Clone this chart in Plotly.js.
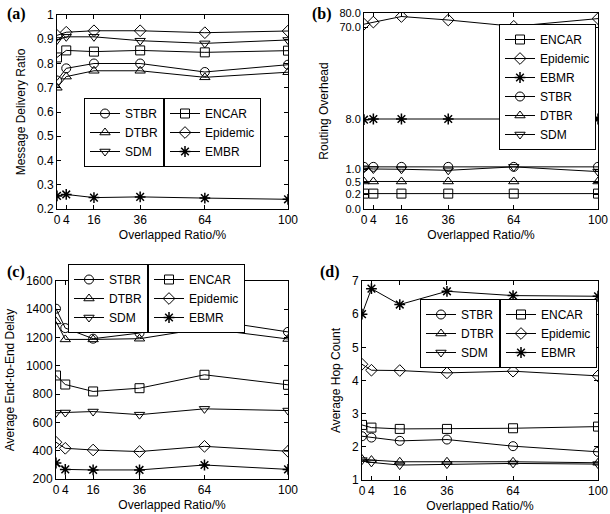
<!DOCTYPE html>
<html>
<head>
<meta charset="utf-8">
<script src="https://cdn.plot.ly/plotly-3.0.1.min.js"></script>
<style>
  html, body { margin: 0; padding: 0; background: #fff; }
  #chart { width: 610px; height: 514px; }
</style>
</head>
<body>
<div id="chart"></div>
<script>
// overlapped ratio (%), shared by all four panels
const overlap = [0, 4, 16, 36, 64, 100];
const xTicks = [0, 4, 16, 36, 64, 100];

// (a) message delivery ratio
const deliverySTBR = [0.73, 0.78, 0.80, 0.80, 0.765, 0.795];
const deliveryDTBR = [0.70, 0.746, 0.77, 0.77, 0.743, 0.764];
const deliverySDM = [0.897, 0.91, 0.91, 0.894, 0.883, 0.897];
const deliveryENCAR = [0.825, 0.854, 0.849, 0.854, 0.846, 0.853];
const deliveryEpidemic = [0.916, 0.929, 0.935, 0.935, 0.927, 0.934];
const deliveryEMBR = [0.254, 0.26, 0.247, 0.25, 0.245, 0.24];

// (b) routing overhead (broken axis)
const overheadENCAR = [0.21, 0.21, 0.21, 0.21, 0.21, 0.21];
const overheadEpidemic = [72, 73.5, 77.5, 75, 70.5, 76];
const overheadEBMR = [7.9, 8, 8, 8, 8, 8];
const overheadSTBR = [1.3, 1.3, 1.3, 1.3, 1.3, 1.3];
const overheadDTBR = [0.52, 0.52, 0.52, 0.52, 0.52, 0.52];
const overheadSDM = [1.1, 1.0, 0.99, 0.95, 1.3, 0.9];
const overheadTicks = [0, 0.2, 0.5, 1, 8, 70, 80];
const overheadTickText = ['0.0', '0.2', '0.5', '1.0', '8.0', '70.0', '80.0'];

// (c) average end-to-end delay
const delaySTBR = [1404, 1267, 1192, 1232, 1330, 1240];
const delayDTBR = [1314, 1187, 1187, 1192, 1265, 1190];
const delaySDM = [668, 670, 677, 655, 696, 684];
const delayENCAR = [932, 868, 819, 842, 937, 866];
const delayEpidemic = [460, 417, 405, 394, 431, 396];
const delayEBMR = [313, 268, 264, 264, 299, 268];

// (d) average hop count
const hopSTBR = [2.32, 2.28, 2.18, 2.22, 2.02, 1.85];
const hopDTBR = [1.63, 1.6, 1.55, 1.55, 1.55, 1.52];
const hopSDM = [1.6, 1.53, 1.45, 1.48, 1.5, 1.48];
const hopENCAR = [2.66, 2.58, 2.54, 2.54, 2.56, 2.61];
const hopEpidemic = [4.49, 4.31, 4.30, 4.23, 4.28, 4.14];
const hopEBMR = [6.0, 6.77, 6.29, 6.69, 6.56, 6.54];

// the overhead axis is piecewise: each tick gets its own stretch of the axis
const overheadStops = [0, 15, 27, 40, 90, 182, 196];
function overheadPos(v) {
  for (let i = 1; i < overheadTicks.length; i++) {
    if (v <= overheadTicks[i]) {
      const f = (v - overheadTicks[i - 1]) / (overheadTicks[i] - overheadTicks[i - 1]);
      return overheadStops[i - 1] + f * (overheadStops[i] - overheadStops[i - 1]);
    }
  }
  return overheadStops[overheadStops.length - 1];
}

const W = 610, H = 514;
const px = x => x / W;
const py = y => 1 - y / H;
const font = { family: '"Liberation Sans", Arial, sans-serif', size: 12, color: '#000' };

const symbols = {
  STBR: 'circle-open', DTBR: 'triangle-up-open', SDM: 'triangle-down-open',
  ENCAR: 'square-open', Epidemic: 'diamond-open', EBMR: 'asterisk-open', EMBR: 'asterisk-open'
};

function series(name, y, axis, legend) {
  const star = symbols[name] === 'asterisk-open';
  return {
    x: overlap, y: y, name: name,
    type: 'scatter', mode: 'lines+markers',
    xaxis: 'x' + axis, yaxis: 'y' + axis, legend: legend,
    line: { color: '#000', width: 1 },
    marker: { symbol: symbols[name], size: 9, color: '#000', line: { color: '#000', width: star ? 1.5 : 1 } }
  };
}

const data = [
  series('STBR', deliverySTBR, '', 'legend'),
  series('DTBR', deliveryDTBR, '', 'legend'),
  series('SDM', deliverySDM, '', 'legend'),
  series('ENCAR', deliveryENCAR, '', 'legend2'),
  series('Epidemic', deliveryEpidemic, '', 'legend2'),
  series('EMBR', deliveryEMBR, '', 'legend2'),

  series('ENCAR', overheadENCAR.map(overheadPos), '2', 'legend3'),
  series('Epidemic', overheadEpidemic.map(overheadPos), '2', 'legend3'),
  series('EBMR', overheadEBMR.map(overheadPos), '2', 'legend3'),
  series('STBR', overheadSTBR.map(overheadPos), '2', 'legend3'),
  series('DTBR', overheadDTBR.map(overheadPos), '2', 'legend3'),
  series('SDM', overheadSDM.map(overheadPos), '2', 'legend3'),

  series('STBR', delaySTBR, '3', 'legend4'),
  series('DTBR', delayDTBR, '3', 'legend4'),
  series('SDM', delaySDM, '3', 'legend4'),
  series('ENCAR', delayENCAR, '3', 'legend5'),
  series('Epidemic', delayEpidemic, '3', 'legend5'),
  series('EBMR', delayEBMR, '3', 'legend5'),

  series('STBR', hopSTBR, '4', 'legend6'),
  series('DTBR', hopDTBR, '4', 'legend6'),
  series('SDM', hopSDM, '4', 'legend6'),
  series('ENCAR', hopENCAR, '4', 'legend7'),
  series('Epidemic', hopEpidemic, '4', 'legend7'),
  series('EBMR', hopEBMR, '4', 'legend7')
];

function xAxis(left, right, anchor) {
  return {
    domain: [px(left), px(right)], anchor: anchor, range: [0, 100],
    tickvals: xTicks, ticks: 'inside', ticklen: 4, tickcolor: '#000',
    showline: true, linecolor: '#000', linewidth: 1, mirror: 'ticks',
    showgrid: false, zeroline: false, tickfont: font,
    title: { text: 'Overlapped Ratio/%', font: font, standoff: 4 }
  };
}

function yAxis(top, bottom, anchor, title, extra) {
  return Object.assign({
    domain: [py(bottom), py(top)], anchor: anchor,
    ticks: 'inside', ticklen: 4, tickcolor: '#000',
    showline: true, linecolor: '#000', linewidth: 1, mirror: 'ticks',
    showgrid: false, zeroline: false, tickfont: font,
    title: { text: title, font: font, standoff: 8 }
  }, extra);
}

function legendBox(x, y, xanchor, yanchor) {
  return {
    x: px(x), y: py(y), xanchor: xanchor, yanchor: yanchor || 'top',
    bgcolor: '#fff', bordercolor: '#000', borderwidth: 1, font: font
  };
}

function panelLabel(text, x, y) {
  return {
    text: '<b>' + text + '</b>', xref: 'paper', yref: 'paper',
    x: px(x), y: py(y), xanchor: 'left', yanchor: 'middle', showarrow: false,
    font: { family: '"Liberation Serif", "Times New Roman", serif', size: 16, color: '#000' }
  };
}

const layout = {
  width: W, height: H,
  margin: { l: 0, r: 0, t: 0, b: 0 },
  paper_bgcolor: '#fff', plot_bgcolor: '#fff',
  font: font, showlegend: true,

  xaxis: xAxis(57, 288, 'y'),
  yaxis: yAxis(15, 209, 'x', 'Message Delivery Ratio', { range: [0.2, 1], dtick: 0.1 }),
  xaxis2: xAxis(364, 598, 'y2'),
  yaxis2: yAxis(13, 209, 'x2', 'Routing Overhead', {
    range: [0, 196], tickvals: overheadTicks.map(overheadPos), ticktext: overheadTickText,
    tickfont: Object.assign({}, font, { size: 11 })
  }),
  xaxis3: xAxis(56, 288, 'y3'),
  yaxis3: yAxis(281, 479, 'x3', 'Average End-to-End Delay', { range: [200, 1600], dtick: 200 }),
  xaxis4: xAxis(362, 598, 'y4'),
  yaxis4: yAxis(281, 480, 'x4', 'Average Hop Count', { range: [1, 7], dtick: 1 }),

  legend: legendBox(164, 98, 'right'),
  legend2: legendBox(164, 98, 'left'),
  legend3: legendBox(596, 24, 'right'),
  legend4: legendBox(148, 333, 'right', 'bottom'),
  legend5: legendBox(148, 333, 'left', 'bottom'),
  legend6: legendBox(500, 299, 'right'),
  legend7: legendBox(500, 299, 'left'),

  annotations: [
    panelLabel('(a)', 5, 14),
    panelLabel('(b)', 310, 14),
    panelLabel('(c)', 5, 272),
    panelLabel('(d)', 318, 272)
  ]
};

Plotly.newPlot('chart', data, layout, { displayModeBar: false, staticPlot: true });
</script>
</body>
</html>
